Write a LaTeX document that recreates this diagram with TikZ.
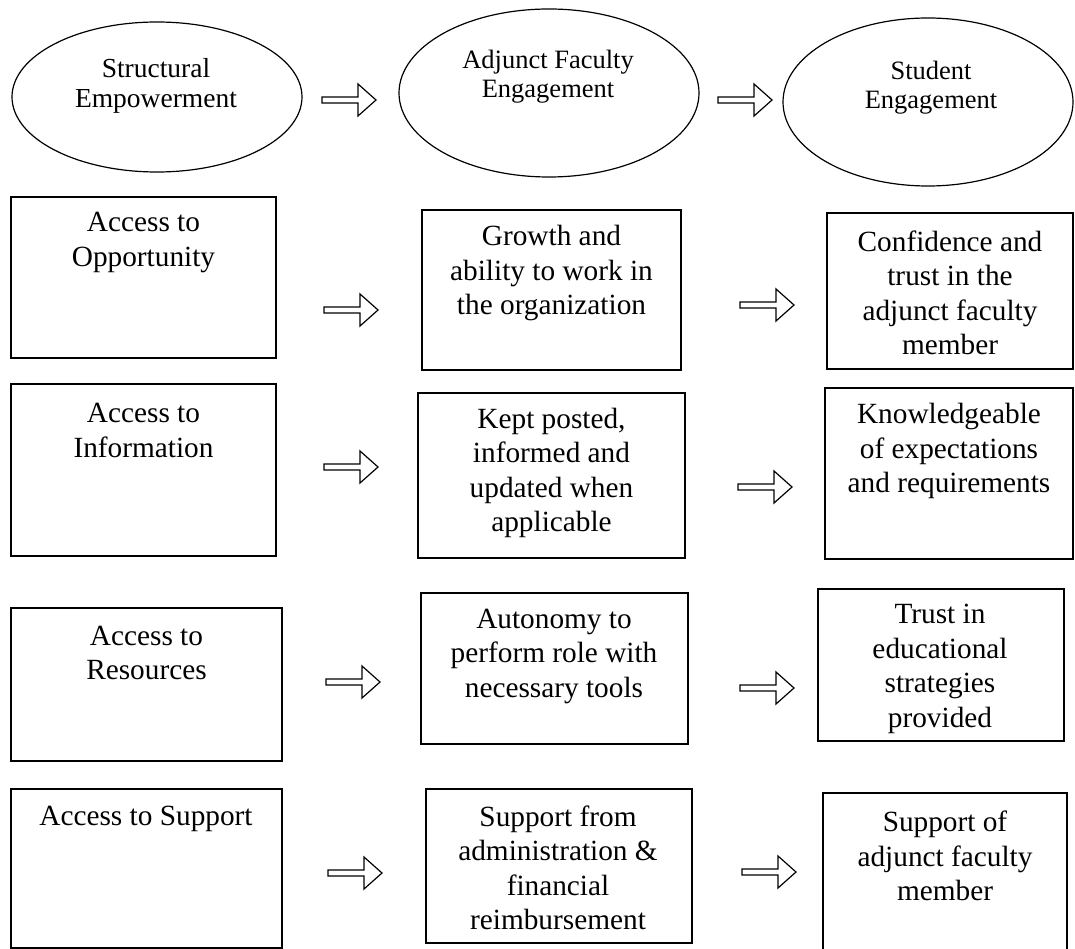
\documentclass[tikz,border=0pt]{standalone}
\usepackage{fontspec}
\setmainfont{Liberation Serif}
\begin{document}
\begin{tikzpicture}[x=1pt,y=-1pt,
  box/.style={draw,line width=1.7pt,inner sep=0pt},
  txt/.style={align=center,inner sep=0pt,font=\fontsize{29.3}{34.5}\selectfont},
  etxtA/.style={align=center,inner sep=0pt,font=\fontsize{27.5}{30}\selectfont},
  etxtB/.style={align=center,inner sep=0pt,font=\fontsize{26.5}{29}\selectfont},
  arr/.style={draw,line width=1.2pt,line join=miter},
  dblarrow/.pic={\draw[arr] (0,-3) -- ++(36,0) -- ++(0,-13) -- ++(18,16) -- ++(-18,16) -- ++(0,-13) -- ++(-36,0) -- cycle;}
]
\useasboundingbox (0,0) rectangle (1075,949);
\fill[white] (0,0) rectangle (1075,949);

% top ellipses
\draw[line width=1.2pt] (157,97) ellipse [x radius=145, y radius=75];
\node[etxtA] (e1) at (156,86) {Structural\\Empowerment};
\draw[line width=1.2pt] (549,93) ellipse [x radius=150, y radius=84];
\node[etxtB] (e2) at (548,77) {Adjunct Faculty\\Engagement};
\draw[line width=1.2pt] (928,102) ellipse [x radius=145, y radius=84];
\node[etxtB] (e3) at (931,88) {Student\\Engagement};

% boxes
\node[box,minimum width=265pt,minimum height=161pt] (b11) at (143.5,277.5) {};
\node[box,minimum width=259pt,minimum height=160pt] (b12) at (551.5,290) {};
\node[box,minimum width=246pt,minimum height=156pt] (b13) at (950,291) {};
\node[box,minimum width=265pt,minimum height=172pt] (b21) at (143.5,470) {};
\node[box,minimum width=267pt,minimum height=165pt] (b22) at (551.5,475.5) {};
\node[box,minimum width=248pt,minimum height=171pt] (b23) at (949,473.5) {};
\node[box,minimum width=271pt,minimum height=153pt] (b31) at (146.5,684.5) {};
\node[box,minimum width=267pt,minimum height=151pt] (b32) at (554.5,668.5) {};
\node[box,minimum width=246pt,minimum height=152pt] (b33) at (941,665) {};
\node[box,minimum width=271pt,minimum height=159pt] (b41) at (146.5,868.5) {};
\node[box,minimum width=266pt,minimum height=154pt] (b42) at (559,866) {};
\node[box,minimum width=244pt,minimum height=172pt] (b43) at (945,879) {};

% texts
\node[txt] (t11) at (143.5,242.5) {Access to\\Opportunity};
\node[txt] (t12) at (551.5,273) {Growth and\\ability to work in\\the organization};
\node[txt] (t13) at (950,293) {Confidence and\\trust in the\\adjunct faculty\\member};
\node[txt] (t21) at (143.5,430.5) {Access to\\Information};
\node[txt] (t22) at (551.5,473) {Kept posted,\\informed and\\updated when\\applicable};
\node[txt] (t23) at (949,451) {Knowledgeable\\of expectations\\and requirements};
\node[txt] (t31) at (146.5,653) {Access to\\Resources};
\node[txt] (t32) at (554,656) {Autonomy to\\perform role with\\necessary tools};
\node[txt] (t33) at (940,669) {Trust in\\educational\\strategies\\provided};
\node[txt] (t41) at (146,819) {Access to Support};
\node[txt] (t42) at (558,868) {Support from\\administration \&\\financial\\reimbursement};
\node[txt] (t43) at (945,856) {Support of\\adjunct faculty\\member};

% arrows
\coordinate (a01) at (322,100);
\coordinate (a02) at (718,100);
\coordinate (a11) at (324,310);
\coordinate (a12) at (740,305);
\coordinate (a21) at (324,467);
\coordinate (a22) at (738,487);
\coordinate (a31) at (326,682);
\coordinate (a32) at (740,688);
\coordinate (a41) at (328,873);
\coordinate (a42) at (742,872);
\foreach \a in {a01,a02,a11,a12,a21,a22,a31,a32,a41,a42}
  \pic at (\a) {dblarrow};
\end{tikzpicture}
\end{document}
